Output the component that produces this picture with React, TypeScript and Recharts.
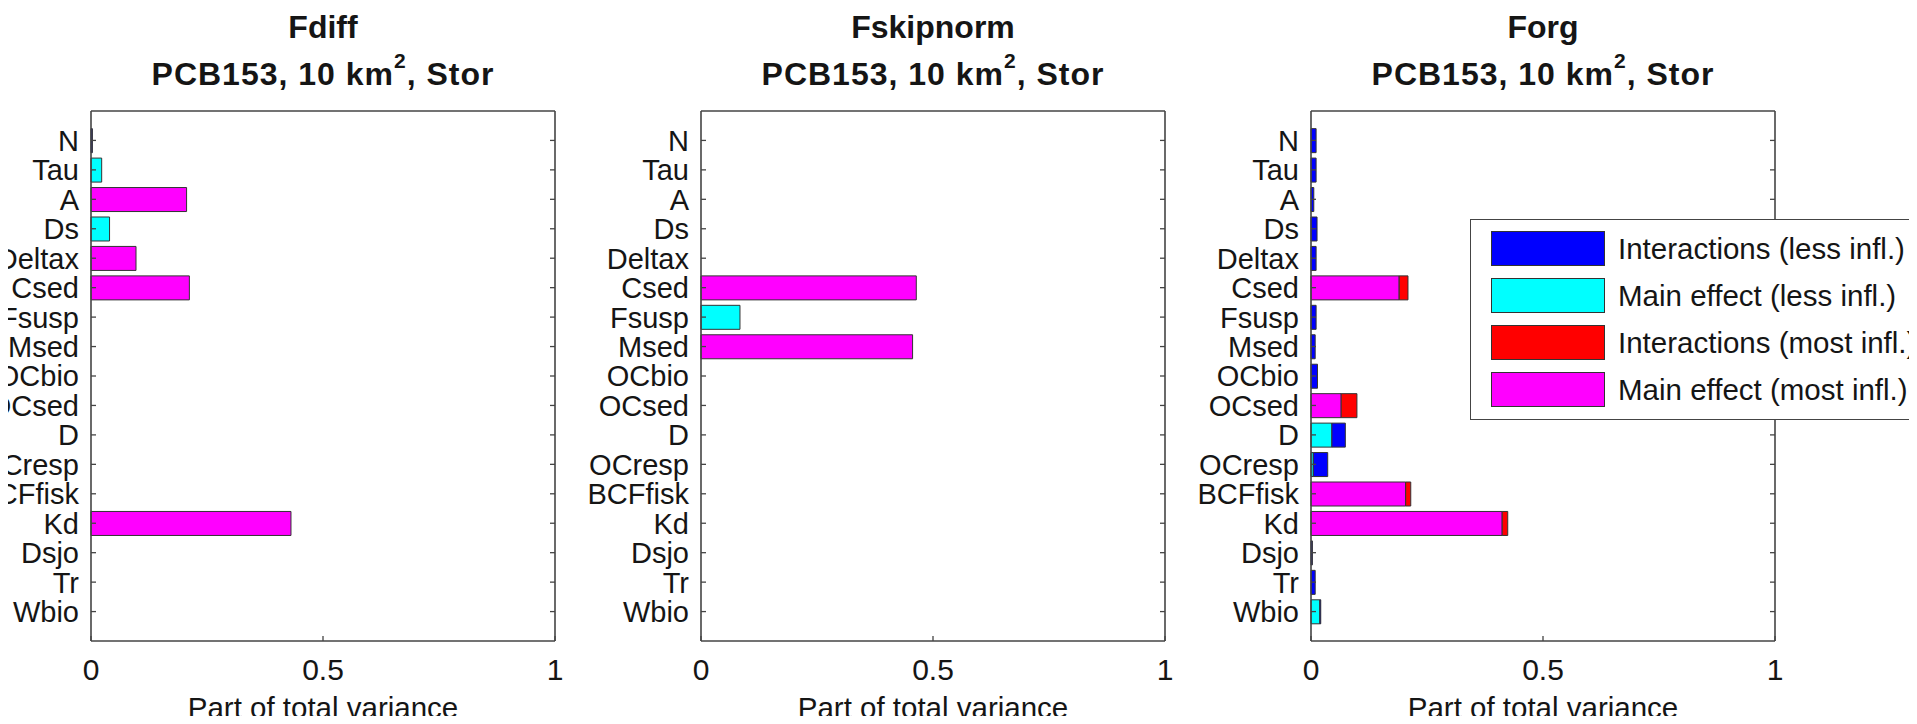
import React from 'react';
import { BarChart, Bar, XAxis, YAxis, Legend } from 'recharts';

// ---------- data ----------
const categories = ['N', 'Tau', 'A', 'Ds', 'Deltax', 'Csed', 'Fsusp', 'Msed', 'OCbio', 'OCsed', 'D', 'OCresp', 'BCFfisk', 'Kd', 'Dsjo', 'Tr', 'Wbio'];
const xTicks = [0, 0.5, 1];
const xTickLabels = ['0', '0.5', '1'];
const panelTitles = ['Fdiff', 'Fskipnorm', 'Forg'];
const subtitleMain = 'PCB153, 10 km';
const subtitleSup = '2';
const subtitleEnd = ', Stor';
const xAxisLabel = 'Part of total variance';

const seriesKeys = ['mainMost', 'mainLess', 'intMost', 'intLess'];
const seriesNames = ['Main effect (most infl.)', 'Main effect (less infl.)', 'Interactions (most infl.)', 'Interactions (less infl.)'];
const seriesColors = ['#ff00ff', '#00ffff', '#ff0000', '#0000ff'];
const legendOrder = [3, 1, 2, 0];

// Fdiff
const fdiffMainMost = [0, 0, 0.206, 0, 0.097, 0.212, 0, 0, 0, 0, 0, 0, 0, 0.431, 0, 0, 0];
const fdiffMainLess = [0, 0.023, 0, 0.040, 0, 0, 0, 0, 0, 0, 0, 0, 0, 0, 0, 0, 0];
const fdiffIntMost = [0, 0, 0, 0, 0, 0, 0, 0, 0, 0, 0, 0, 0, 0, 0, 0, 0];
const fdiffIntLess = [0.003, 0, 0, 0, 0, 0, 0, 0, 0, 0, 0, 0, 0, 0, 0, 0, 0];

// Fskipnorm
const fskipMainMost = [0, 0, 0, 0, 0, 0.464, 0, 0.456, 0, 0, 0, 0, 0, 0, 0, 0, 0];
const fskipMainLess = [0, 0, 0, 0, 0, 0, 0.084, 0, 0, 0, 0, 0, 0, 0, 0, 0, 0];
const fskipIntMost = [0, 0, 0, 0, 0, 0, 0, 0, 0, 0, 0, 0, 0, 0, 0, 0, 0];
const fskipIntLess = [0, 0, 0, 0, 0, 0, 0, 0, 0, 0, 0, 0, 0, 0, 0, 0, 0];

// Forg
const forgMainMost = [0, 0, 0, 0, 0, 0.190, 0, 0, 0, 0.065, 0, 0, 0.204, 0.412, 0, 0, 0];
const forgMainLess = [0, 0, 0, 0, 0, 0, 0, 0, 0, 0, 0.045, 0.005, 0, 0, 0, 0, 0.019];
const forgIntMost = [0, 0, 0, 0, 0, 0.019, 0, 0, 0, 0.034, 0, 0, 0.011, 0.012, 0, 0, 0];
const forgIntLess = [0.011, 0.011, 0.006, 0.013, 0.011, 0, 0.011, 0.009, 0.014, 0, 0.029, 0.031, 0, 0, 0.003, 0.009, 0.002];

const buildData = (mm: number[], ml: number[], im: number[], il: number[]) =>
  categories.map((name, i) => ({ name, mainMost: mm[i], mainLess: ml[i], intMost: im[i], intLess: il[i] }));

const panels = [
  { title: panelTitles[0], data: buildData(fdiffMainMost, fdiffMainLess, fdiffIntMost, fdiffIntLess) },
  { title: panelTitles[1], data: buildData(fskipMainMost, fskipMainLess, fskipIntMost, fskipIntLess) },
  { title: panelTitles[2], data: buildData(forgMainMost, forgMainLess, forgIntMost, forgIntLess) },
];

// ---------- layout / style ----------
const FONT = '"Liberation Sans", Arial, Helvetica, sans-serif';
const TEXT = '#151515';
const AXIS = '#444';
const PLOT_W = 464;
const PLOT_TOP = 111;
const CHART_H = 724;
const XAXIS_H = 83;
const BAND_PAD = 14.7;
const TICK_LEN = 5;
const TICK_FONT = 29;

const layouts = [
  { left: 0, width: 600, marginLeft: 91 },
  { left: 560, width: 640, marginLeft: 141 },
  { left: 1170, width: 747, marginLeft: 141 },
];

const LeftTick = (props: any) => {
  const { x, y, payload } = props;
  return (
    <g>
      <line x1={x} x2={x + TICK_LEN} y1={y} y2={y} stroke={AXIS} strokeWidth={1.3} />
      <text x={x - 12} y={y} dy="0.36em" textAnchor="end" fontFamily={FONT} fontSize={TICK_FONT} fill={TEXT}>
        {payload.value}
      </text>
    </g>
  );
};

const RightTick = (props: any) => {
  const { x, y } = props;
  return <line x1={x - TICK_LEN} x2={x} y1={y} y2={y} stroke={AXIS} strokeWidth={1.3} />;
};

const BottomTick = (props: any) => {
  const { x, y, payload } = props;
  const idx = xTicks.indexOf(payload.value);
  return (
    <g>
      <line x1={x} x2={x} y1={y - TICK_LEN} y2={y} stroke={AXIS} strokeWidth={1.3} />
      <text x={x} y={y + 39} textAnchor="middle" fontFamily={FONT} fontSize={30} fill={TEXT}>
        {idx >= 0 ? xTickLabels[idx] : String(payload.value)}
      </text>
    </g>
  );
};

const TopTick = (props: any) => {
  const { x, y } = props;
  return <line x1={x} x2={x} y1={y} y2={y + TICK_LEN} stroke={AXIS} strokeWidth={1.3} />;
};

const AxisLabel = (props: any) => {
  const vb = props.viewBox || {};
  return (
    <text x={vb.x + vb.width / 2} y={vb.y + 77} textAnchor="middle" fontFamily={FONT} fontSize={29.5} fill={TEXT}>
      {xAxisLabel}
    </text>
  );
};

const LegendBox = () => (
  <div
    style={{
      border: `1.6px solid ${AXIS}`,
      background: '#fff',
      width: 470,
      height: 201,
      boxSizing: 'border-box',
      position: 'relative',
      fontFamily: FONT,
      fontSize: 29.5,
      color: TEXT,
    }}
  >
    {legendOrder.map((s, i) => (
      <div key={s} style={{ position: 'absolute', left: 20, top: 11 + i * 47, height: 35, display: 'flex', alignItems: 'center' }}>
        <div style={{ width: 114, height: 35, background: seriesColors[s], border: '1.2px solid #333', boxSizing: 'border-box' }} />
        <span style={{ marginLeft: 13, whiteSpace: 'nowrap', lineHeight: '35px' }}>{seriesNames[s]}</span>
      </div>
    ))}
  </div>
);

const Panel = ({ index }: { index: number }) => {
  const p = panels[index];
  const l = layouts[index];
  const marginRight = l.width - l.marginLeft - PLOT_W;
  return (
    <div style={{ position: 'absolute', left: l.left, top: 0, width: l.width, height: CHART_H }}>
      <svg width={PLOT_W} height={100} style={{ position: 'absolute', left: l.marginLeft, top: 0, overflow: 'visible' }}>
        <text x={PLOT_W / 2} y={38} textAnchor="middle" fontFamily={FONT} fontWeight="bold" fontSize={32} fill={TEXT}>
          {p.title}
        </text>
        <text x={PLOT_W / 2} y={85} textAnchor="middle" fontFamily={FONT} fontWeight="bold" fontSize={32} letterSpacing={1} fill={TEXT}>
          {subtitleMain}
          <tspan dy={-17} fontSize={21}>{subtitleSup}</tspan>
          <tspan dy={17}>{subtitleEnd}</tspan>
        </text>
      </svg>
      <BarChart
        width={l.width}
        height={CHART_H}
        data={p.data}
        layout="vertical"
        barCategoryGap="10%"
        margin={{ top: PLOT_TOP - 1, right: marginRight - 1, bottom: 0, left: l.marginLeft - 1 }}
        style={{ position: 'absolute', left: 0, top: 0 }}
      >
        <XAxis
          type="number"
          domain={[0, 1]}
          ticks={xTicks}
          height={XAXIS_H}
          tickSize={0}
          tickMargin={0}
          tickLine={false}
          tick={<BottomTick />}
          axisLine={{ stroke: AXIS, strokeWidth: 1.6 }}
          interval={0}
          label={<AxisLabel />}
        />
        <XAxis
          xAxisId="top"
          orientation="top"
          type="number"
          domain={[0, 1]}
          ticks={xTicks}
          height={1}
          tickSize={0}
          tickMargin={0}
          tickLine={false}
          tick={<TopTick />}
          axisLine={{ stroke: AXIS, strokeWidth: 1.6 }}
          interval={0}
        />
        <YAxis
          type="category"
          dataKey="name"
          width={1}
          tickSize={0}
          tickMargin={0}
          tickLine={false}
          tick={<LeftTick />}
          axisLine={{ stroke: AXIS, strokeWidth: 1.6 }}
          interval={0}
          padding={{ top: BAND_PAD, bottom: BAND_PAD }}
        />
        <YAxis
          yAxisId="right"
          orientation="right"
          type="category"
          dataKey="name"
          width={1}
          tickSize={0}
          tickMargin={0}
          tickLine={false}
          tick={<RightTick />}
          axisLine={{ stroke: AXIS, strokeWidth: 1.6 }}
          interval={0}
          padding={{ top: BAND_PAD, bottom: BAND_PAD }}
        />
        {seriesKeys.map((k, i) => (
          <Bar
            key={k}
            dataKey={k}
            name={seriesNames[i]}
            stackId="s"
            fill={seriesColors[i]}
            stroke="#333"
            strokeWidth={1}
            isAnimationActive={false}
          />
        ))}
        {index === 2 && (
          <Legend
            layout="vertical"
            align="center"
            verticalAlign="middle"
            wrapperStyle={{ left: 1470 - l.left, top: 219, width: 470, height: 201 }}
            content={() => <LegendBox />}
          />
        )}
      </BarChart>
    </div>
  );
}

export default function App() {
  return (
    <div style={{ position: 'relative', width: 1917, height: 724, margin: -8, overflow: 'hidden', background: '#fff' }}>
      <Panel index={0} />
      <Panel index={1} />
      <Panel index={2} />
    </div>
  );
}
